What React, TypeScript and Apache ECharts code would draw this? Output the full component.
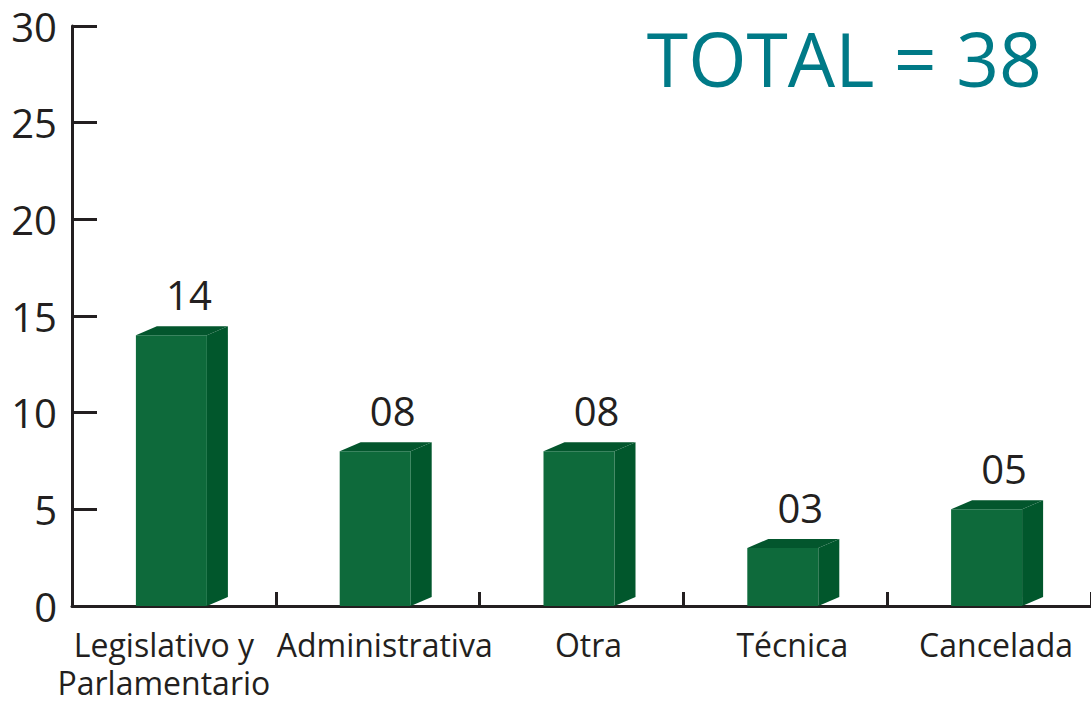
import React, { useEffect, useRef } from "react";
import * as echarts from "echarts";

const categories = ["Legislativo y\nParlamentario", "Administrativa", "Otra", "Técnica", "Cancelada"];
const values = [14, 8, 8, 3, 5];
const valueLabels = ["14", "08", "08", "03", "05"];
const yTicks = [0, 5, 10, 15, 20, 25, 30];
const totalText = "TOTAL = 38";

const FONT = "'Open Sans', 'Noto Sans', sans-serif";

export default function App() {
  const ref = useRef<HTMLDivElement>(null);
  useEffect(() => {
    const chart = echarts.init(ref.current!, null, { renderer: "svg" });
    chart.setOption({
      animation: false,
      backgroundColor: "#ffffff",
      grid: { left: 72, right: 0, top: 26, bottom: 100, containLabel: false },
      title: {
        text: totalText,
        right: 44,
        top: 15,
        textStyle: { color: "#007a87", fontSize: 75, fontWeight: "normal", fontFamily: FONT },
      },
      xAxis: {
        type: "category",
        data: categories.map((c, i) =>
          i === 0 ? { value: c, textStyle: { padding: [0, 20, 0, 0] } } : c
        ),
        boundaryGap: true,
        axisLine: { show: true, lineStyle: { color: "#231f20", width: 3 } },
        axisTick: { show: true, inside: true, length: 14, interval: 0, lineStyle: { color: "#231f20", width: 3 } },
        axisLabel: {
          interval: 0,
          color: "#231f20",
          fontSize: 32,
          fontFamily: FONT,
          lineHeight: 38,
          margin: 19,
          padding: [0, 0, 0, 14],
        },
        splitLine: { show: false },
      },
      yAxis: {
        type: "value",
        min: yTicks[0],
        max: yTicks[yTicks.length - 1],
        interval: 5,
        axisLine: { show: true, lineStyle: { color: "#231f20", width: 3 } },
        axisTick: { show: true, inside: true, length: 25, lineStyle: { color: "#231f20", width: 3 } },
        axisLabel: { color: "#231f20", fontSize: 40, fontFamily: FONT, margin: 15, lineHeight: 36 },
        splitLine: { show: false },
      },
      series: [
        {
          type: "custom",
          data: values.map((v, i) => [i, v]),
          renderItem: (params: any, api: any) => {
            const idx = api.value(0);
            const val = api.value(1);
            const top = api.coord([idx, val]);
            const base = api.coord([idx, 0]);
            const cx = top[0];
            const x0 = cx - 38;
            const x1 = cx + 33;
            const dx = 21;
            const dy = 9;
            const yT = top[1];
            const yB = base[1];
            return {
              type: "group",
              children: [
                {
                  type: "polygon",
                  shape: { points: [[x1, yT], [x1 + dx, yT - dy], [x1 + dx, yB - dy], [x1, yB]] },
                  style: { fill: "#01572c" },
                },
                {
                  type: "polygon",
                  shape: { points: [[x0, yT], [x0 + dx, yT - dy], [x1 + dx, yT - dy], [x1, yT]] },
                  style: { fill: "#03562d" },
                },
                {
                  type: "rect",
                  shape: { x: x0, y: yT, width: x1 - x0, height: yB - yT },
                  style: { fill: "#0e6a3b" },
                },
                {
                  type: "text",
                  x: cx + 15,
                  y: yT - dy - 32,
                  style: {
                    text: valueLabels[params.dataIndex],
                    fill: "#231f20",
                    fontSize: 40,
                    fontFamily: FONT,
                    align: "center",
                    verticalAlign: "middle",
                  },
                },
              ],
            };
          },
        },
      ],
    });
    return () => chart.dispose();
  }, []);
  return (
    <div
      ref={ref}
      style={{ position: "absolute", left: 0, top: 0, width: 1091, height: 706 }}
    />
  );
}
